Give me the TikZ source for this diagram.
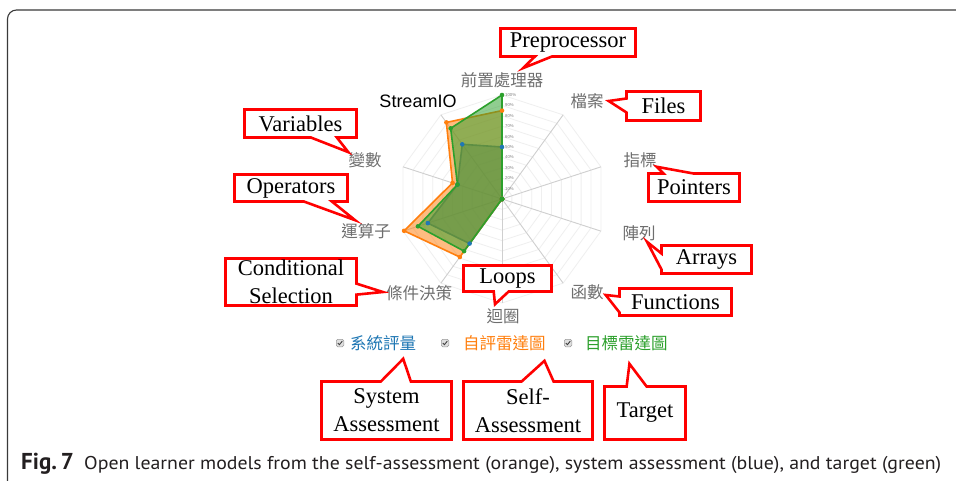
\documentclass[tikz,border=0pt]{standalone}
\usepackage{fontspec}
\usepackage{graphicx}
\setmainfont{Liberation Serif}
\newfontfamily\cjk{Noto Sans CJK TC}
\newfontfamily\arial{Liberation Sans}
\newfontfamily\capfont{PT Sans}
\usetikzlibrary{shapes.callouts,calc}

\definecolor{sysblue}{HTML}{1F77B4}
\definecolor{selforange}{HTML}{FF7F0E}
\definecolor{tgtgreen}{HTML}{2CA02C}
\definecolor{lblgray}{HTML}{6E6E6E}
\definecolor{notered}{HTML}{FF0000}
\definecolor{ringgray}{HTML}{EFEFEF}
\definecolor{spokegray}{HTML}{CFCFCF}
\definecolor{framegray}{HTML}{3A3A3A}
\definecolor{captext}{HTML}{231F20}

\begin{document}
\begin{tikzpicture}[x=1pt,y=-1pt,
  note/.style={rectangle callout, draw=notered, line width=2.6pt, fill=white,
    inner sep=0pt, align=center, font=\fontsize{22.5}{28}\selectfont},
  axislbl/.style={font=\cjk\fontsize{16.5}{18}\selectfont, text=lblgray, inner sep=0pt},
  legtxt/.style={font=\cjk\fontsize{16.5}{18}\selectfont, inner sep=0pt},
  tick/.style={font=\arial\fontsize{4.3}{5}\selectfont, text=gray, inner sep=0pt, anchor=west},
  ring/.style={draw=ringgray, line width=0.8pt},
  spoke/.style={draw=spokegray, line width=0.9pt},
  series/.style={line width=1.6pt, line join=round, draw=#1, fill=#1, fill opacity=0.52, draw opacity=1},
  chk/.style={draw=gray!80, fill=gray!25, rounded corners=1.5pt, minimum size=7.5pt, inner sep=0pt, line width=0.5pt}
]
\useasboundingbox (0,0) rectangle (956,481);
\fill[white] (0,0) rectangle (956,481);

% outer frame
\draw[framegray, line width=1.1pt, rounded corners=9pt] (7.5,490) -- (7.5,10) -- (970,10);

% radar grid
\coordinate (C) at (502,199);
\foreach \k in {1,...,10} {
  \draw[ring] (502,{199-10.4*\k})
    \foreach \j in {1,...,9} { -- ({502+10.4*\k*sin(36*\j)},{199-10.4*\k*cos(36*\j)}) } -- cycle;
}
\foreach \j in {0,...,9} {
  \draw[spoke] (C) -- ({502+104*sin(36*\j)},{199-104*cos(36*\j)});
}
\foreach \k in {1,...,10} {
  \pgfmathtruncatemacro{\pc}{10*\k}
  \node[tick] (t\k) at (505,{199-10.4*\k}) {\pc\%};
}

% series vertices
\foreach \v [count=\i from 0] in {0.50,0,0,0,0,0,0.53,0.75,0.45,0.65}
  \coordinate (B\i) at ({502+104*\v*sin(36*\i)},{199-104*\v*cos(36*\i)});
\foreach \v [count=\i from 0] in {0.85,0,0,0,0,0,0.69,0.99,0.50,0.91}
  \coordinate (O\i) at ({502+104*\v*sin(36*\i)},{199-104*\v*cos(36*\i)});
\foreach \v [count=\i from 0] in {1.00,0,0,0,0,0,0.62,0.85,0.45,0.84}
  \coordinate (G\i) at ({502+104*\v*sin(36*\i)},{199-104*\v*cos(36*\i)});

\path[series=sysblue] (B0)--(B1)--(B2)--(B3)--(B4)--(B5)--(B6)--(B7)--(B8)--(B9)--cycle;
\path[series=selforange] (O0)--(O1)--(O2)--(O3)--(O4)--(O5)--(O6)--(O7)--(O8)--(O9)--cycle;
\path[series=tgtgreen] (G0)--(G1)--(G2)--(G3)--(G4)--(G5)--(G6)--(G7)--(G8)--(G9)--cycle;

\foreach \i in {0,...,9} \fill[sysblue] (B\i) circle (2.3);
\foreach \i in {0,...,9} \fill[selforange] (O\i) circle (2.3);
\foreach \i in {0,...,9} \fill[tgtgreen] (G\i) circle (2.3);

% axis labels
\node[axislbl] (lblPre) at (502,80) {前置處理器};
\node[axislbl] (lblFile) at (587,101) {檔案};
\node[axislbl] (lblPtr) at (640,160) {指標};
\node[axislbl] (lblArr) at (639,233) {陣列};
\node[axislbl] (lblFun) at (587,292) {函數};
\node[axislbl] (lblLoop) at (503,316) {迴圈};
\node[axislbl] (lblCond) at (419,293) {條件決策};
\node[axislbl] (lblOps) at (366,231) {運算子};
\node[axislbl] (lblVar) at (365,160) {變數};
\node[font=\arial\fontsize{18}{20}\selectfont, inner sep=0pt] (lblIO) at (418,101) {StreamIO};

% legend
\node[chk] (ck1) at (340,343) {};
\node[chk] (ck2) at (445,343) {};
\node[chk] (ck3) at (568,343) {};
\foreach \c in {ck1,ck2,ck3}
  \draw[black!75, line width=0.9pt] ($(\c)+(-2.2,0)$) -- ($(\c)+(-0.6,1.7)$) -- ($(\c)+(2.3,-1.9)$);
\node[legtxt, text=sysblue, anchor=west] (legSys) at (350,343) {系統評量};
\node[legtxt, text=selforange, anchor=west] (legSelf) at (463,343) {自評雷達圖};
\node[legtxt, text=tgtgreen, anchor=west] (legTgt) at (585,343) {目標雷達圖};

% callouts
\node[note, minimum width=135, minimum height=28, callout pointer width=17,
  callout absolute pointer={($(lblPre.north)+(21,-4)$)}] (nPre) at (568,42.5) {Preprocessor};
\node[note, minimum width=74, minimum height=29, callout pointer width=14,
  callout absolute pointer={($(lblFile.east)+(5,0)$)}] (nFile) at (663.5,106) {Files};
\node[note, minimum width=91, minimum height=28, callout pointer width=30,
  callout absolute pointer={($(lblPtr.south east)+(0,-1)$)}] (nPtr) at (694,187.5) {Pointers};
\node[note, minimum width=90, minimum height=28, callout pointer width=16,
  callout absolute pointer={($(lblArr.south)+(8,1)$)}] (nArr) at (706.5,259.5) {Arrays};
\node[note, minimum width=112, minimum height=27, callout pointer width=16,
  callout absolute pointer={($(lblFun.east)+(2,3)$)}] (nFun) at (675.5,302) {Functions};
\node[note, minimum width=88, minimum height=26, callout pointer width=15,
  callout absolute pointer={($(lblLoop.north)+(-8,-4)$)}] (nLoop) at (507.5,278.5) {Loops};
\node[note, minimum width=131, minimum height=47, callout pointer width=11,
  callout absolute pointer={($(lblCond.west)+(-3,-1)$)}] (nCond) at (291,282) {Conditional\\Selection};
\node[note, minimum width=113, minimum height=27, callout pointer width=28,
  callout absolute pointer={($(lblOps.north)+(-11,-3)$)}] (nOps) at (291,188) {Operators};
\node[note, minimum width=112, minimum height=28, callout pointer width=26,
  callout absolute pointer={(lblVar.north west)}] (nVar) at (300.5,123.5) {Variables};
\node[note, minimum width=130, minimum height=58, callout pointer width=30,
  callout absolute pointer={($(legSys.south)+(20,8)$)}] (nSys) at (386.5,410.5) {System\\Assessment};
\node[note, minimum width=129, minimum height=58, callout pointer width=32,
  callout absolute pointer={($(legSelf.south)+(40,10)$)}] (nSelf) at (528,410.5) {Self-\\Assessment};
\node[note, minimum width=81, minimum height=53, callout pointer width=20,
  callout absolute pointer={($(legTgt.south)+(3,13)$)}] (nTgt) at (645,413) {Target};

% caption
\node[anchor=base west, inner sep=0pt, text=captext,
  font=\capfont\bfseries\fontsize{23}{25}\selectfont] (figno) at (21,469) {Fig.\,7};
\node[anchor=base west, inner sep=0pt, text=captext,
  font=\capfont\fontsize{18.5}{21}\selectfont] (captxt) at (84,469)
  {\resizebox{857pt}{\height}{Open learner models from the self-assessment (orange), system assessment (blue), and target (green)}};
\end{tikzpicture}
\end{document}
